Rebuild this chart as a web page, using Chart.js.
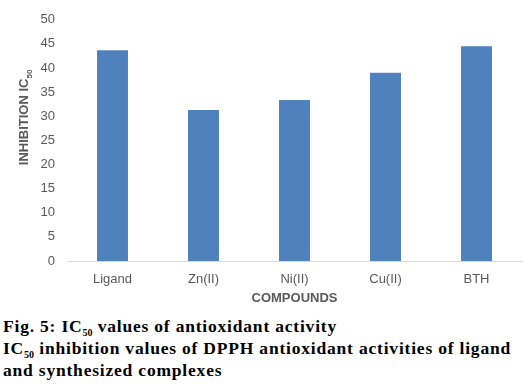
<!DOCTYPE html>
<html>
<head>
<meta charset="utf-8">
<script src="https://cdn.jsdelivr.net/npm/chart.js@4.4.1/dist/chart.umd.min.js"></script>
<style>
  html, body { margin: 0; padding: 0; background: #ffffff; }
  #wrap { position: relative; width: 524px; height: 386px; overflow: hidden; }
  #c { position: absolute; left: 0; top: 0; }
  #caption { position: absolute; left: 3px; top: 315px; width: 524px;
    font-family: "Liberation Serif", "Times New Roman", serif; font-weight: bold;
    font-size: 17.5px; letter-spacing: 0.8px; line-height: 22px; color: #000; white-space: nowrap; }
  #caption sub { font-size: 10px; letter-spacing: 0; vertical-align: -4px; line-height: 0; }
</style>
</head>
<body>
<div id="wrap">
  <canvas id="c" width="524" height="306"></canvas>
  <div id="caption">Fig. 5: IC<sub>50</sub> values of antioxidant activity<br>IC<sub>50</sub> inhibition values of DPPH antioxidant activities of ligand<br>and synthesized complexes</div>
</div>
<script>
const categories = ["Ligand", "Zn(II)", "Ni(II)", "Cu(II)", "BTH"];
const ic50Values = [43.7, 31.3, 33.4, 39.0, 44.5];
const yTicks = [0, 5, 10, 15, 20, 25, 30, 35, 40, 45, 50];
const yTitleMain = "INHIBITION IC";
const yTitleSub = "50";
const xTitle = "COMPOUNDS";

const tickColor = "#595959";

const yTitlePlugin = {
  id: "yTitle",
  afterDraw(chart) {
    const ctx = chart.ctx;
    const area = chart.chartArea;
    ctx.save();
    ctx.fillStyle = tickColor;
    ctx.font = "bold 13px 'Liberation Sans', Arial, sans-serif";
    const mainW = ctx.measureText(yTitleMain).width;
    ctx.font = "bold 8px 'Liberation Sans', Arial, sans-serif";
    const subW = ctx.measureText(yTitleSub).width;
    const total = mainW + subW;
    const cy = (area.top + area.bottom) / 2 - 23;
    ctx.translate(28, cy + total / 2);
    ctx.rotate(-Math.PI / 2);
    ctx.textBaseline = "alphabetic";
    ctx.textAlign = "left";
    ctx.font = "bold 13px 'Liberation Sans', Arial, sans-serif";
    ctx.fillText(yTitleMain, 0, 0);
    ctx.font = "bold 8px 'Liberation Sans', Arial, sans-serif";
    ctx.fillText(yTitleSub, mainW, 4);
    ctx.restore();
  }
};

new Chart(document.getElementById("c"), {
  type: "bar",
  data: {
    labels: categories,
    datasets: [{
      data: ic50Values,
      backgroundColor: "#4F81BD",
      borderWidth: 0,
      barPercentage: 0.34,
      categoryPercentage: 1.0
    }]
  },
  options: {
    responsive: false,
    animation: false,
    devicePixelRatio: 1,
    layout: { padding: { top: 0, right: 2, bottom: 0, left: 0 } },
    plugins: { legend: { display: false }, tooltip: { enabled: false } },
    scales: {
      x: {
        grid: { display: false, drawTicks: false },
        border: { display: true, color: "#D9D9D9", width: 1 },
        ticks: { color: tickColor, font: { family: "'Liberation Sans', Arial, sans-serif", size: 13 }, padding: 11 },
        title: { display: true, text: xTitle, color: tickColor,
          font: { family: "'Liberation Sans', Arial, sans-serif", size: 13, weight: "bold" }, padding: { top: 3, bottom: 0 } },
        afterFit(scale) { scale.height = 45; }
      },
      y: {
        min: 0, max: 50,
        afterBuildTicks(scale) { scale.ticks = yTicks.map(v => ({ value: v })); },
        grid: { display: false, drawTicks: false },
        border: { display: false },
        ticks: { color: tickColor, font: { family: "'Liberation Sans', Arial, sans-serif", size: 13 }, padding: 12 },
        afterFit(scale) { scale.width = 67; }
      }
    }
  },
  plugins: [yTitlePlugin]
});
</script>
</body>
</html>
